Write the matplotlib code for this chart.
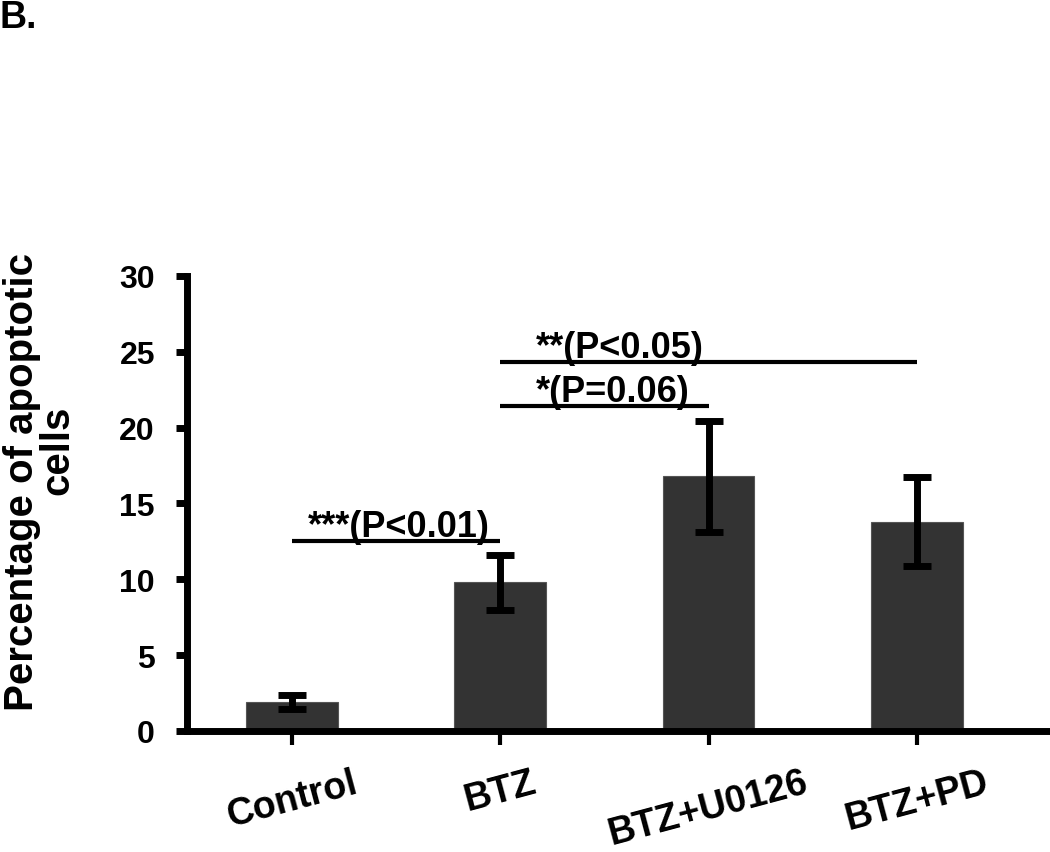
import matplotlib
matplotlib.use('Agg')
import matplotlib.pyplot as plt

plt.rcParams['font.family'] = ['Liberation Sans', 'DejaVu Sans']
plt.rcParams['font.weight'] = 'bold'

# data
groups = ['Control', 'BTZ', 'BTZ+U0126', 'BTZ+PD']
means = [1.9, 9.8, 16.8, 13.8]
errs = [0.45, 1.8, 3.65, 2.95]

# significance bars: (from group, to group, height, label)
sig_from = [0, 1, 1]
sig_to = [1, 2, 3]
sig_y = [12.5, 21.4, 24.3]
sig_labels = ['***(P<0.01)', '*(P=0.06)', '**(P<0.05)']

fig = plt.figure(figsize=(10.5, 8.53), dpi=100)
ax = fig.add_axes([0.178, 0.1419, 0.822, 0.5334])

x = list(range(len(groups)))
ax.bar(x, means, width=0.44, color='#333333', edgecolor='#555555', linewidth=0.8, zorder=2)
ax.errorbar(x, means, yerr=errs, fmt='none', ecolor='black', elinewidth=5,
            capsize=10, capthick=5, zorder=3)

for a, b, y, lab in zip(sig_from, sig_to, sig_y, sig_labels):
    ax.plot([a, b], [y, y], color='black', lw=3, solid_capstyle='butt', zorder=3)
    ax.text(a + 0.075 if a == 0 else a + 0.17, y + 0.35, lab, fontsize=26,
            fontweight='bold', ha='left', va='baseline')

ax.set_xlim(-0.505, 3.64)
ax.set_ylim(0, 30)
ax.set_yticks([0, 5, 10, 15, 20, 25, 30])
ax.set_xticks(x)
ax.set_xticklabels(groups, rotation=15, ha='center')

for side in ['top', 'right']:
    ax.spines[side].set_visible(False)
for side in ['left', 'bottom']:
    ax.spines[side].set_linewidth(5)
    ax.spines[side].set_capstyle('projecting')

ax.tick_params(axis='y', length=8, width=5, pad=15, labelsize=23)
ax.tick_params(axis='x', length=10, width=3, pad=14, labelsize=27)

# two-line y label, drawn as separate texts to match the tight spacing
fig.text(0.021, 1 - 482 / 853, 'Percentage of apoptotic', rotation=90,
         ha='center', va='center', fontsize=29, fontweight='bold')
fig.text(0.055, 1 - 450 / 853, 'cells', rotation=90,
         ha='center', va='center', fontsize=29, fontweight='bold')
fig.text(0.0, 1.0, 'B.', fontsize=27, fontweight='bold', ha='left', va='top')

fig.savefig('out.png', dpi=100)
